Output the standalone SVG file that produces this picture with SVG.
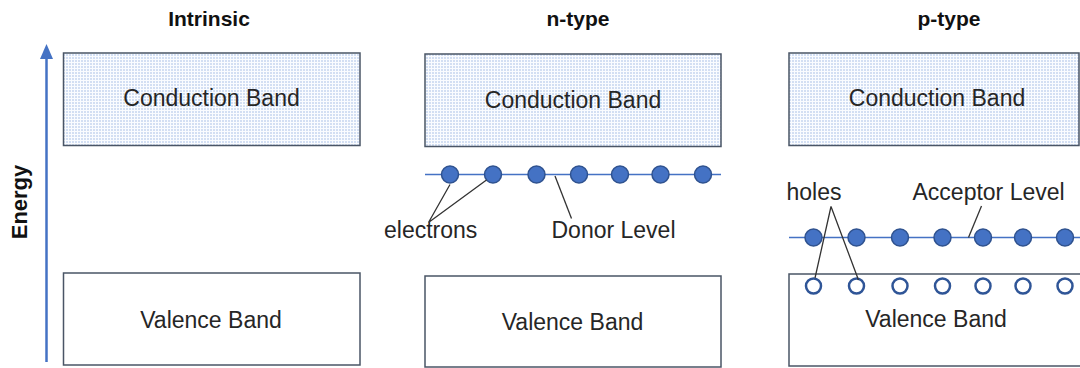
<svg xmlns="http://www.w3.org/2000/svg" width="1080" height="368" viewBox="0 0 1080 368">
<defs>
<pattern id="dots" width="3" height="3" patternUnits="userSpaceOnUse">
<rect width="3" height="3" fill="#FAFCFF"/>
<rect width="2" height="2" fill="#D3DFF3"/>
</pattern>
</defs>
<style>
.band{stroke:#4A5566;stroke-width:1.5}
.cb{fill:url(#dots)}
.vb{fill:#FFFFFF}
.lbl{font-family:"Liberation Sans",Arial,sans-serif;font-size:23px;fill:#262626}
.ttl{font-family:"Liberation Sans",Arial,sans-serif;font-size:21px;font-weight:bold;fill:#111111;text-anchor:middle}
.mid{text-anchor:middle}
.lvl{stroke:#4472C4;stroke-width:1.5}
.e{fill:#4472C4;stroke:#2F528F;stroke-width:1.5}
.h{fill:#FFFFFF;stroke:#2F5597;stroke-width:2.5}
.lead{stroke:#333333;stroke-width:1.3;fill:none}
</style>
<text class="ttl" x="209" y="26">Intrinsic</text>
<text class="ttl" x="578" y="26">n-type</text>
<text class="ttl" x="949" y="26">p-type</text>
<g id="energy-axis">
<line x1="46.5" y1="362" x2="46.5" y2="57" stroke="#4472C4" stroke-width="2.5"/>
<polygon points="46.5,44 40,59 53,59" fill="#4472C4"/>
<text class="ttl" style="font-size:22px" transform="translate(27,202) rotate(-90)">Energy</text>
</g>
<g id="intrinsic-cb">
<rect class="band cb" x="63.5" y="53" width="296.5" height="92.5"/>
<text class="lbl mid" x="211.5" y="106">Conduction Band</text>
</g>
<g id="intrinsic-vb">
<rect class="band vb" x="63.5" y="273" width="296.5" height="92"/>
<text class="lbl mid" x="211" y="327.5">Valence Band</text>
</g>
<g id="n-cb">
<rect class="band cb" x="425" y="54" width="296" height="92.5"/>
<text class="lbl mid" x="573" y="107.5">Conduction Band</text>
</g>
<g id="n-vb">
<rect class="band vb" x="425" y="276" width="296" height="91"/>
<text class="lbl mid" x="572.5" y="330">Valence Band</text>
</g>
<g id="p-cb">
<rect class="band cb" x="789" y="53" width="290" height="92.5"/>
<text class="lbl mid" x="937" y="106">Conduction Band</text>
</g>
<g id="p-vb">
<rect class="band vb" x="789" y="274" width="295" height="92"/>
<text class="lbl mid" x="936" y="326.5">Valence Band</text>
</g>
<g id="donor-level">
<line class="lvl" x1="425" y1="174.5" x2="721" y2="174.5"/>
<circle class="e" cx="450" cy="174.5" r="8.5"/>
<circle class="e" cx="493" cy="174.5" r="8.5"/>
<circle class="e" cx="536.5" cy="174.5" r="8.5"/>
<circle class="e" cx="579" cy="174.5" r="8.5"/>
<circle class="e" cx="620" cy="174.5" r="8.5"/>
<circle class="e" cx="660.5" cy="174.5" r="8.5"/>
<circle class="e" cx="703" cy="174.5" r="8.5"/>
</g>
<g id="acceptor-level">
<line class="lvl" x1="789" y1="237.5" x2="1080" y2="237.5"/>
<circle class="e" cx="813.5" cy="237.5" r="8.5"/>
<circle class="e" cx="856.5" cy="237.5" r="8.5"/>
<circle class="e" cx="900" cy="237.5" r="8.5"/>
<circle class="e" cx="942.5" cy="237.5" r="8.5"/>
<circle class="e" cx="983" cy="237.5" r="8.5"/>
<circle class="e" cx="1023" cy="237.5" r="8.5"/>
<circle class="e" cx="1065" cy="237.5" r="8.5"/>
</g>
<g id="holes">
<circle class="h" cx="813.5" cy="286" r="7.5"/>
<circle class="h" cx="856.5" cy="286" r="7.5"/>
<circle class="h" cx="900" cy="286" r="7.5"/>
<circle class="h" cx="942.5" cy="286" r="7.5"/>
<circle class="h" cx="983" cy="286" r="7.5"/>
<circle class="h" cx="1023" cy="286" r="7.5"/>
<circle class="h" cx="1065" cy="286" r="7.5"/>
</g>
<g id="labels">
<text class="lbl" x="384" y="237.5">electrons</text>
<text class="lbl" x="551.5" y="238">Donor Level</text>
<text class="lbl" x="786.5" y="200">holes</text>
<text class="lbl" x="912.5" y="200">Acceptor Level</text>
</g>
<g id="connectors">
<path class="lead" d="M428.5,222.5 L450,184.5 M428.5,222.5 L486.5,180"/>
<path class="lead" d="M555,176 L571.5,218.5"/>
<path class="lead" d="M831,206.5 L815,278 M831,206.5 L858.5,280"/>
<path class="lead" d="M981.5,206 L968.5,237.5"/>
</g>
</svg>
